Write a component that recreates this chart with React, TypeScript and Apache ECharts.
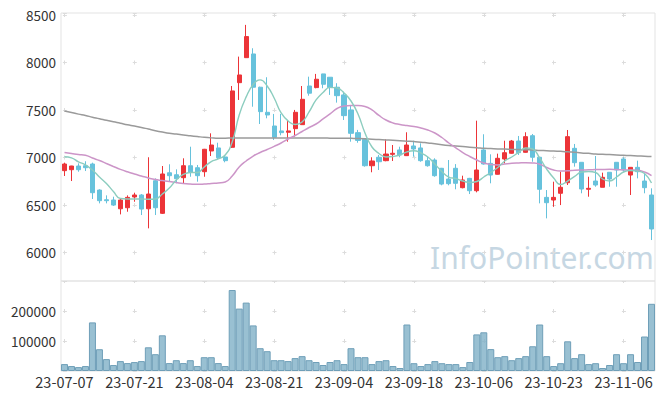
import React, { useEffect, useRef } from "react";
import * as echarts from "echarts";

const dates = [
  "23-07-07", "23-07-10", "23-07-11", "23-07-12", "23-07-13", "23-07-14", "23-07-17", "23-07-18", "23-07-19", "23-07-20",
  "23-07-21", "23-07-24", "23-07-25", "23-07-26", "23-07-27", "23-07-28", "23-07-31", "23-08-01", "23-08-02", "23-08-03",
  "23-08-04", "23-08-07", "23-08-08", "23-08-09", "23-08-10", "23-08-11", "23-08-14", "23-08-16", "23-08-17", "23-08-18",
  "23-08-21", "23-08-22", "23-08-23", "23-08-24", "23-08-25", "23-08-28", "23-08-29", "23-08-30", "23-08-31", "23-09-01",
  "23-09-04", "23-09-05", "23-09-06", "23-09-07", "23-09-08", "23-09-11", "23-09-12", "23-09-13", "23-09-14", "23-09-15",
  "23-09-18", "23-09-19", "23-09-20", "23-09-21", "23-09-22", "23-09-25", "23-09-26", "23-09-27", "23-10-04", "23-10-05",
  "23-10-06", "23-10-10", "23-10-11", "23-10-12", "23-10-13", "23-10-16", "23-10-17", "23-10-18", "23-10-19", "23-10-20",
  "23-10-23", "23-10-24", "23-10-25", "23-10-26", "23-10-27", "23-10-30", "23-10-31", "23-11-01", "23-11-02", "23-11-03",
  "23-11-06", "23-11-07", "23-11-08", "23-11-09", "23-11-10",
];

const opens = [
  6861, 6871, 6910, 6913, 6931, 6657, 6555, 6552, 6460, 6471,
  6584, 6605, 6460, 6755, 6412, 6839, 6818, 6787, 6913, 6892,
  6850, 7068, 7100, 7005, 7107, 7787, 8050, 8089, 7739, 7475,
  7331, 7279, 7265, 7303, 7345, 7752, 7735, 7879, 7844, 7739,
  7658, 7500, 7261, 7191, 6913, 7002, 6966, 7033, 7079, 7019,
  7121, 7100, 6966, 6973, 6886, 6773, 6886, 6682, 6780, 6650,
  7079, 6938, 6823, 6984, 7044, 7173, 7054, 7229, 7002, 6580,
  6552, 6623, 6734, 7096, 6949, 6665, 6752, 6686, 6844, 6949,
  6984, 6815, 6896, 6752, 6605,
];
const closes = [
  6931, 6910, 6871, 6892, 6629, 6545, 6545, 6499, 6552, 6580,
  6605, 6457, 6615, 6471, 6826, 6808, 6776, 6913, 6847, 6808,
  7086, 7131, 6997, 6966, 7700, 7868, 8272, 7739, 7482, 7447,
  7212, 7261, 7279, 7475, 7612, 7676, 7823, 7770, 7735, 7650,
  7440, 7254, 7179, 6913, 6963, 6955, 7036, 7044, 7026, 7131,
  7089, 6966, 6913, 6808, 6720, 6724, 6728, 6763, 6650, 6868,
  6931, 6815, 6991, 7050, 7173, 7050, 7219, 7002, 6665, 6524,
  6580, 6686, 7219, 6945, 6668, 6675, 6710, 6791, 6773, 6868,
  6868, 6896, 6850, 6682, 6247,
];
const lows = [
  6805, 6752, 6850, 6857, 6563, 6517, 6517, 6489, 6401, 6429,
  6534, 6394, 6254, 6394, 6405, 6752, 6728, 6728, 6797, 6745,
  6797, 7015, 6984, 6949, 7100, 7605, 8050, 7534, 7352, 7412,
  7184, 7233, 7166, 7219, 7345, 7650, 7728, 7728, 7658, 7577,
  7394, 7166, 7155, 6903, 6844, 6868, 6960, 6963, 7002, 7015,
  7008, 6955, 6903, 6797, 6707, 6707, 6665, 6675, 6615, 6633,
  6925, 6728, 6820, 6938, 7040, 7026, 7050, 6955, 6517, 6359,
  6481, 6499, 6710, 6903, 6623, 6587, 6692, 6686, 6692, 6692,
  6850, 6605, 6780, 6623, 6131,
];
const highs = [
  6945, 6912, 6938, 6960, 6945, 6665, 6601, 6587, 6563, 6601,
  6629, 6615, 7002, 6780, 6910, 6928, 6875, 6991, 7113, 6921,
  7090, 7254, 7155, 7026, 7752, 8061, 8395, 8149, 7745, 7844,
  7458, 7458, 7387, 7500, 7752, 7850, 7879, 7880, 7846, 7781,
  7692, 7552, 7290, 7202, 7002, 7026, 7191, 7131, 7113, 7265,
  7176, 7149, 7008, 6991, 6890, 6973, 6930, 6808, 6785, 7387,
  7244, 7033, 7040, 7176, 7184, 7226, 7265, 7247, 7005, 6657,
  6745, 6850, 7289, 7142, 6949, 6797, 7015, 6840, 6844, 6949,
  7002, 6896, 6966, 6836, 6675,
];

const ma5 = [
  7007, 6996, 6954, 6923, 6868, 6794, 6726, 6642, 6568, 6563,
  6563, 6563, 6560, 6563, 6615, 6678, 6763, 6821, 6842, 6842,
  6900, 6957, 6984, 7026, 7163, 7447, 7637, 7768, 7816, 7752,
  7626, 7468, 7384, 7347, 7373, 7479, 7605, 7684, 7737, 7731,
  7679, 7594, 7458, 7258, 7110, 7042, 7005, 7010, 7026, 7058,
  7070, 7047, 7005, 6931, 6852, 6794, 6778, 6752, 6736, 6747,
  6794, 6842, 6894, 6963, 7005, 7054, 7100, 7089, 6994, 6878,
  6784, 6715, 6752, 6800, 6847, 6852, 6842, 6773, 6752, 6794,
  6847, 6863, 6857, 6831, 6731,
];
const ma20 = [
  7053, 7042, 7031, 7023, 6994, 6968, 6936, 6905, 6875, 6849,
  6826, 6805, 6784, 6767, 6757, 6747, 6736, 6726, 6720, 6717,
  6720, 6726, 6731, 6742, 6805, 6900, 6963, 7015, 7052, 7084,
  7117, 7152, 7194, 7231, 7273, 7315, 7352, 7405, 7458, 7515,
  7542, 7547, 7547, 7537, 7500, 7442, 7394, 7363, 7347, 7336,
  7326, 7310, 7289, 7257, 7210, 7152, 7102, 7052, 7010, 6973,
  6942, 6926, 6921, 6931, 6938, 6942, 6945, 6942, 6929, 6894,
  6868, 6857, 6859, 6865, 6868, 6870, 6872, 6874, 6875, 6873,
  6870, 6868, 6865, 6847, 6810,
];
const ma120 = [
  7489, 7472, 7456, 7441, 7424, 7408, 7391, 7375, 7360, 7344,
  7331, 7316, 7299, 7282, 7267, 7254, 7247, 7236, 7228, 7220,
  7212, 7206, 7202, 7203, 7204, 7205, 7206, 7206, 7206, 7206,
  7206, 7206, 7206, 7205, 7205, 7205, 7204, 7204, 7203, 7202,
  7202, 7201, 7200, 7197, 7192, 7188, 7184, 7180, 7175, 7171,
  7167, 7161, 7152, 7144, 7134, 7126, 7120, 7114, 7108, 7103,
  7096, 7093, 7090, 7088, 7085, 7083, 7081, 7079, 7074, 7071,
  7067, 7064, 7060, 7054, 7048, 7043, 7037, 7033, 7030, 7026,
  7023, 7020, 7016, 7013, 7009,
];

const volumes = [
  23000, 16500, 13000, 16500, 162000, 72600, 39600, 19800, 33000, 26400,
  29700, 33000, 79000, 56000, 119000, 26400, 36000, 26400, 36000, 16500,
  46000, 46000, 26400, 16500, 270000, 208000, 228000, 152000, 76000, 66000,
  36000, 36000, 33000, 43000, 49500, 36000, 30000, 20000, 30000, 36000,
  23000, 76000, 46000, 46000, 23000, 33000, 36000, 16500, 10000, 155000,
  26000, 16500, 23000, 33000, 26000, 23000, 23000, 13000, 30000, 122000,
  129000, 73000, 46000, 49500, 36000, 43000, 49500, 82500, 155000, 49500,
  16500, 26000, 99000, 43000, 56000, 23000, 26000, 10000, 20000, 56000,
  26000, 56000, 30000, 115000, 224000,
];

const priceTicks = [6000, 6500, 7000, 7500, 8000, 8500];
const volumeTicks = [100000, 200000];

export default function App() {
  const ref = useRef<HTMLDivElement>(null);
  useEffect(() => {
    if (!ref.current) return;
    const chart = echarts.init(ref.current, null, { renderer: "svg" });
    const candle = opens.map((o, i) => [o, closes[i], lows[i], highs[i]]);
    const font = "Noto Sans CJK KR";
    const gridLine = "#dcdcdc";
    const hDash = { color: gridLine, width: 1, type: [4, 65.88], dashOffset: 68.39 };
    const labelStyle = { fontFamily: font, fontSize: 13.5, color: "#333" };
    chart.setOption({
      animation: false,
      backgroundColor: "#ffffff",
      textStyle: { fontFamily: font },
      graphic: [
        {
          type: "text",
          x: 430,
          y: 257,
          z: 0,
          style: {
            text: "InfoPointer.com",
            fontSize: 30,
            fontFamily: "Noto Sans",
            fill: "#c6d7e3",
            verticalAlign: "middle",
            align: "left",
          },
        },
      ],
      grid: [
        { left: 61, right: 10, top: 13, height: 268, show: true, borderColor: "#e3e3e3", borderWidth: 1, backgroundColor: "transparent" },
        { left: 61, right: 10, top: 281, height: 90, show: true, borderColor: "#e3e3e3", borderWidth: 1, backgroundColor: "transparent" },
      ],
      xAxis: [
        {
          type: "category",
          data: dates,
          gridIndex: 0,
          boundaryGap: true,
          axisLine: { show: false },
          axisTick: { show: false, interval: 9, alignWithLabel: true },
          axisLabel: { show: false, interval: 9 },
          splitLine: {
            show: true,
            interval: 9,
            alignWithLabel: true,
            lineStyle: { color: gridLine, width: 1, type: [4, 43.52], dashOffset: 0.1 },
          },
        },
        {
          type: "category",
          data: dates,
          gridIndex: 1,
          boundaryGap: true,
          axisLine: { show: false },
          axisTick: { show: false, interval: 9, alignWithLabel: true },
          axisLabel: { ...labelStyle, fontSize: 14.5, interval: 9, margin: 3 },
          splitLine: {
            show: true,
            interval: 9,
            alignWithLabel: true,
            lineStyle: { color: gridLine, width: 1, type: [4, 26], dashOffset: 2 },
          },
        },
      ],
      yAxis: [
        {
          type: "value",
          gridIndex: 0,
          min: 5700,
          max: 8520,
          splitNumber: 5,
          axisLine: { show: false },
          axisTick: { show: false },
          axisLabel: {
            ...labelStyle,
            margin: 5,
            showMinLabel: false,
            showMaxLabel: false,
            formatter: (v: number) => (priceTicks.includes(v) ? String(v) : ""),
          },
          splitLine: { show: true, lineStyle: hDash },
        },
        {
          type: "value",
          gridIndex: 1,
          min: 0,
          max: 300000,
          interval: 100000,
          axisLine: { show: false },
          axisTick: { show: false },
          axisLabel: {
            ...labelStyle,
            margin: 5,
            showMinLabel: false,
            showMaxLabel: false,
            formatter: (v: number) => (volumeTicks.includes(v) ? String(v) : ""),
          },
          splitLine: { show: true, lineStyle: hDash },
        },
      ],
      series: [
        {
          name: "candle",
          type: "candlestick",
          xAxisIndex: 0,
          yAxisIndex: 0,
          data: candle,
          barWidth: "66%",
          itemStyle: {
            color: "#ec3438",
            color0: "#67c2dc",
            borderColor: "#ec3438",
            borderColor0: "#67c2dc",
            borderWidth: 1,
          },
        },
        {
          name: "MA120",
          type: "line",
          data: ma120,
          smooth: true,
          showSymbol: false,
          lineStyle: { color: "#9a9a9a", width: 1.5 },
        },
        {
          name: "MA20",
          type: "line",
          data: ma20,
          smooth: true,
          showSymbol: false,
          lineStyle: { color: "#cc95c8", width: 1.5 },
        },
        {
          name: "MA5",
          type: "line",
          data: ma5,
          smooth: true,
          showSymbol: false,
          lineStyle: { color: "#8ccdbf", width: 1.4 },
        },
        {
          name: "volume",
          type: "bar",
          xAxisIndex: 1,
          yAxisIndex: 1,
          data: volumes,
          barWidth: "100%",
          itemStyle: { color: "rgba(128,176,199,0.8)", borderColor: "#6f9fb8", borderWidth: 1 },
        },
      ],
    });
    return () => chart.dispose();
  }, []);
  return (
    <div
      ref={ref}
      style={{ position: "fixed", left: 0, top: 0, width: 665, height: 399 }}
    />
  );
}
